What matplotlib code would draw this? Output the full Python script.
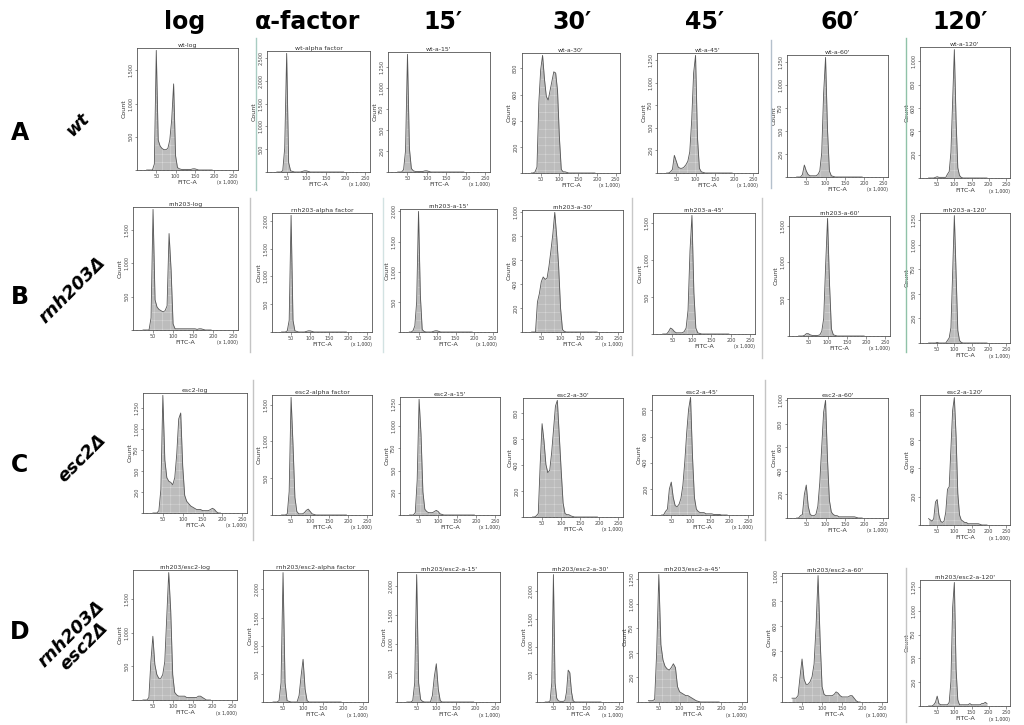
import matplotlib
matplotlib.use("Agg")
import matplotlib.pyplot as plt
from matplotlib.lines import Line2D
from matplotlib.ticker import MaxNLocator, MultipleLocator, FuncFormatter

# FITC-A bin centres (x 1,000)
fitc_bins = [25, 30, 35, 40, 45, 50, 55, 60, 65, 70, 75, 80, 85, 90, 95, 100, 105, 110,
             115, 120, 125, 130, 135, 140, 145, 150, 155, 160, 165, 170, 175, 180, 185, 190, 195]

# heights as % of the tallest bin of each histogram
wt_log = [0, 0, 0, 0, 5, 100, 25, 20, 18, 17, 17, 18, 25, 42, 72, 12, 2, 1, 0.5, 0.5,
          0.5, 0.5, 0.5, 0.5, 1, 1, 0.5, 0, 0, 0, 0, 0, 0, 0, 0]
wt_alpha = [0, 0, 0, 1, 20, 100, 8, 1, 0.5, 0, 0, 0, 0, 0.5, 1, 1, 0.5, 0, 0, 0,
            0, 0, 0, 0, 0, 0, 0, 0, 0, 0, 0, 0, 0, 0, 0]
wt_15 = [0, 0, 0, 2, 18, 100, 20, 3, 1, 0.5, 0.5, 0.5, 0.5, 0.5, 1, 1, 0.5, 0, 0, 0,
         0, 0, 0, 0, 0, 0, 0, 0, 0, 0, 0, 0, 0, 0, 0]
wt_30 = [0, 0, 1, 5, 60, 88, 100, 80, 65, 62, 70, 78, 86, 85, 70, 30, 3, 1, 1, 0.5,
         0, 0, 0, 0, 0, 0, 0, 0, 0, 0, 0, 0, 0, 0, 0]
wt_45 = [0, 0, 1, 3, 15, 10, 5, 4, 4, 5, 7, 10, 18, 45, 85, 100, 30, 4, 1, 0.5,
         0, 0, 0, 0, 0, 0, 0, 0, 0, 0, 0, 0, 0, 0, 0]
wt_60 = [0, 0, 0, 2, 10, 5, 2, 1, 1, 1, 1, 2, 5, 20, 70, 100, 40, 5, 1, 0.5,
         0, 0, 0, 0, 0, 0, 0, 0, 0, 0, 0, 0, 0, 0, 0]
wt_120 = [0, 0, 0, 0, 0.5, 1, 0.5, 0.5, 0.5, 0.5, 0.5, 3, 5, 20, 60, 100, 45, 8, 2, 0.5,
          0, 0, 0, 0, 0, 0, 0, 0, 0, 0, 0, 0, 0, 0, 0]

rnh_log = [0, 0, 0, 0, 10, 100, 25, 19, 17, 16, 15, 16, 20, 80, 50, 5, 1, 1, 1, 1,
           1, 1, 1, 1, 1, 1, 1, 0.5, 1, 1, 0.5, 0, 0, 0, 0]
rnh_alpha = [0, 0, 0, 1, 10, 100, 10, 1, 0.5, 0, 0, 0, 0, 0.5, 1, 1, 0.5, 0, 0, 0,
             0, 0, 0, 0, 0, 0, 0, 0, 0, 0, 0, 0, 0, 0, 0]
rnh_15 = [0, 0, 1, 5, 25, 100, 30, 2, 0.5, 0, 0, 0, 0, 0.5, 1, 1, 0.5, 0, 0, 0,
          0, 0, 0, 0, 0, 0, 0, 0, 0, 0, 0, 0, 0, 0, 0]
rnh_30 = [0, 0, 0, 25, 32, 42, 46, 44, 45, 55, 68, 82, 100, 80, 55, 20, 2, 0.5, 0, 0,
          0, 0, 0, 0, 0, 0, 0, 0, 0, 0, 0, 0, 0, 0, 0]
rnh_45 = [0, 0, 0, 2, 5, 4, 2, 1, 1, 1, 1, 2, 5, 20, 70, 100, 35, 5, 1, 0.5,
          0, 0, 0, 0, 0, 0, 0, 0, 0, 0, 0, 0, 0, 0, 0]
rnh_60 = [0, 0, 0, 0.5, 2, 2, 1, 0.5, 0.5, 0.5, 0.5, 1, 4, 15, 60, 100, 45, 6, 1, 0.5,
          0, 0, 0, 0, 0, 0, 0, 0, 0, 0, 0, 0, 0, 0, 0]
rnh_120 = [0, 0, 0, 0, 0, 0.5, 0, 0, 0, 0, 0, 2, 4, 12, 55, 100, 55, 10, 2, 0.5,
           0, 0, 0, 0, 0, 0, 0, 0, 0, 0, 0, 0, 0, 0, 0]

esc_log = [0, 0, 0, 2, 20, 100, 45, 30, 27, 26, 24, 30, 50, 80, 85, 40, 15, 10, 8, 6,
           5, 4, 3, 3, 3, 2, 2, 2, 2, 3, 4, 3, 1, 0, 0]
esc_alpha = [0, 0, 0, 1, 20, 100, 60, 15, 3, 1, 1, 1, 2, 4, 5, 3, 1, 0.5, 0, 0,
             0, 0, 0, 0, 0, 0, 0, 0, 0, 0, 0, 0, 0, 0, 0]
esc_15 = [0, 0, 0, 2, 30, 100, 70, 20, 5, 3, 2, 2, 2, 3, 4, 3, 1, 0.5, 0, 0,
          0, 0, 0, 0, 0, 0, 0, 0, 0, 0, 0, 0, 0, 0, 0]
esc_30 = [0, 0, 1, 3, 45, 80, 65, 45, 38, 40, 55, 75, 95, 100, 70, 40, 12, 3, 2, 2,
          1, 0.5, 0, 0, 0, 0, 0, 0, 0, 0, 0, 0, 0, 0, 0]
esc_45 = [0, 0, 3, 5, 22, 28, 15, 8, 7, 9, 14, 25, 45, 70, 90, 100, 50, 15, 5, 3,
          2, 2, 2, 1, 1, 1, 1, 0.5, 0.5, 0.5, 0.5, 0, 0, 0, 0]
esc_60 = [0, 0, 2, 3, 20, 28, 10, 3, 2, 2, 3, 10, 30, 60, 90, 100, 50, 15, 5, 3,
          2, 2, 1, 1, 1, 1, 1, 1, 1, 1, 1, 0.5, 0, 0, 0]
esc_120 = [5, 4, 3, 5, 18, 20, 8, 3, 2, 3, 10, 28, 30, 60, 90, 100, 70, 25, 8, 4,
           3, 2, 2, 1, 1, 1, 1, 1, 1, 1, 0.5, 0, 0, 0, 0]

dbl_log = [0, 0, 0, 2, 30, 50, 28, 20, 17, 17, 20, 30, 65, 100, 70, 20, 6, 4, 3, 3,
           3, 3, 2, 2, 2, 2, 2, 2, 3, 3, 2, 1, 0, 0, 0]
dbl_alpha = [0, 0, 0, 1, 15, 100, 15, 1, 0.5, 0, 0, 0, 0, 5, 20, 33, 10, 1, 0, 0,
             0, 0, 0, 0, 0, 0, 0, 0, 0, 0, 0, 0, 0, 0, 0]
dbl_15 = [0, 0, 0, 1, 15, 100, 15, 2, 0.5, 0, 0, 0, 0, 5, 20, 30, 10, 1, 0, 0,
          0, 0, 0, 0, 0, 0, 0, 0, 0, 0, 0, 0, 0, 0, 0]
dbl_30 = [0, 0, 0, 1, 15, 100, 15, 3, 1, 0.5, 0.5, 0.5, 1, 8, 25, 23, 8, 1, 0, 0,
          0, 0, 0, 0, 0, 0, 0, 0, 0, 0, 0, 0, 0, 0, 0]
dbl_45 = [1, 1, 1, 2, 40, 100, 45, 33, 28, 26, 25, 27, 30, 27, 12, 8, 7, 6, 5, 5,
          4, 3, 2, 1, 0.5, 0, 0, 0, 0, 0, 0, 0, 0, 0, 0]
dbl_60 = [3, 3, 3, 5, 20, 34, 18, 14, 14, 16, 20, 30, 60, 100, 50, 12, 6, 5, 5, 5,
          5, 6, 8, 7, 5, 4, 4, 4, 4, 5, 5, 3, 1, 0, 0]
dbl_120 = [0, 0, 0, 1, 3, 8, 2, 1, 1, 1, 1, 1, 3, 20, 80, 100, 30, 5, 1, 1,
           1, 1, 1, 1, 2, 1, 1, 1, 1, 1, 1, 2, 2, 3, 2]

# approximate count at the top of each panel
wt_peak = [1800, 2600, 1400, 900, 1300, 1300, 1100]
rnh_peak = [1800, 2100, 2000, 1000, 1600, 1600, 1300]
esc_peak = [1400, 1600, 1300, 900, 900, 1000, 900]
dbl_peak = [1900, 2300, 2200, 2300, 1300, 1000, 1300]

timepoints = ["log", "α-factor", "15′", "30′", "45′", "60′", "120′"]
file_suffix = ["log", "alpha factor", "a-15'", "a-30'", "a-45'", "a-60'", "a-120'"]
row_letters = ["A", "B", "C", "D"]
strains = ["wt", "rnh203Δ", "esc2Δ", "rnh203Δ\nesc2Δ"]
file_prefix = ["wt", "rnh203", "esc2", "rnh203/esc2"]

histograms = [
    [wt_log, wt_alpha, wt_15, wt_30, wt_45, wt_60, wt_120],
    [rnh_log, rnh_alpha, rnh_15, rnh_30, rnh_45, rnh_60, rnh_120],
    [esc_log, esc_alpha, esc_15, esc_30, esc_45, esc_60, esc_120],
    [dbl_log, dbl_alpha, dbl_15, dbl_30, dbl_45, dbl_60, dbl_120],
]
peaks = [wt_peak, rnh_peak, esc_peak, dbl_peak]

# panel boxes in pixels (left, top, right, bottom)
boxes = [
    [(137, 48, 238, 170), (267, 51, 370, 172), (388, 52, 490, 172), (522, 53, 620, 173),
     (657, 53, 758, 173), (787, 55, 888, 177), (920, 47, 1010, 178)],
    [(133, 207, 238, 330), (272, 213, 372, 332), (400, 209, 497, 332), (522, 210, 623, 332),
     (653, 213, 755, 334), (789, 216, 890, 336), (920, 213, 1010, 343)],
    [(143, 393, 247, 513), (272, 395, 372, 515), (400, 397, 500, 515), (523, 398, 623, 517),
     (652, 395, 753, 515), (787, 398, 888, 518), (920, 395, 1010, 525)],
    [(133, 570, 237, 700), (263, 570, 368, 702), (397, 572, 500, 702), (537, 572, 623, 702),
     (638, 572, 747, 702), (782, 573, 887, 702), (920, 580, 1010, 706)],
]

W, H = 1024, 725
plt.rcParams['hatch.linewidth'] = 0.3
fig = plt.figure(figsize=(W / 100, H / 100), dpi=100)


def fx(x):
    return x / W


def fy(y):
    return 1 - y / H


for r in range(4):
    for c in range(7):
        x0, y0, x1, y1 = boxes[r][c]
        ax = fig.add_axes([fx(x0), fy(y1), fx(x1 - x0), (y1 - y0) / H])
        top = peaks[r][c]
        counts = [v * top / 100 for v in histograms[r][c]]
        ax.fill_between(fitc_bins, counts, color='#bcbcbc', lw=0)
        ax.fill_between(fitc_bins, counts, facecolor='none', hatch='++',
                        edgecolor='#dedede', lw=0)
        ax.plot(fitc_bins, counts, color='#555555', lw=0.6)
        ax.set_xlim(0, 262)
        ax.set_ylim(0, top * 1.02)
        ax.xaxis.set_major_locator(MultipleLocator(50))
        ax.xaxis.set_minor_locator(MultipleLocator(10))
        ax.yaxis.set_major_locator(MaxNLocator(nbins=6, steps=[1, 2, 2.5, 5, 10]))
        ax.yaxis.set_major_formatter(FuncFormatter(lambda v, p: f"{int(v):,}" if v > 0 else ""))
        ax.tick_params(axis='both', which='major', length=1.8, width=0.4, pad=1,
                       labelsize=3.5, colors='#444444')
        ax.tick_params(axis='both', which='minor', length=1.0, width=0.3)
        ax.set_xticks([50, 100, 150, 200, 250])
        for lab in ax.get_yticklabels():
            lab.set_rotation(90)
            lab.set_va('center')
        for s in ax.spines.values():
            s.set_linewidth(0.6)
            s.set_color('#555555')
        ax.set_title(f"{file_prefix[r]}-{file_suffix[c]}", fontsize=4.5, pad=1,
                     color='#333333')
        ax.set_xlabel("FITC-A", fontsize=4.5, labelpad=1, color='#333333')
        ax.set_ylabel("Count", fontsize=4.5, labelpad=1, color='#333333')
        ax.text(1.0, -0.085, "(x 1,000)", transform=ax.transAxes, ha='right',
                va='top', fontsize=3.3, color='#333333')

# column headers
header_x = [185, 308, 443, 572, 705, 840, 960]
for name, hx in zip(timepoints, header_x):
    fig.text(fx(hx), fy(22), name, ha='center', va='center', fontsize=17,
             fontweight='bold')

# row letters and strain names
row_y = [133, 297, 465, 632]
name_pos = [(78, 125), (72, 290), (82, 458), (78, 640)]
for letter, ry, strain, (nx, ny) in zip(row_letters, row_y, strains, name_pos):
    fig.text(fx(20), fy(ry), letter, ha='center', va='center', fontsize=17,
             fontweight='bold')
    fig.text(fx(nx), fy(ny), strain, ha='center', va='center', fontsize=13,
             fontweight='bold', fontstyle='italic', rotation=45, linespacing=1.0)

# thin separator lines from the pasted panels
separators = [
    (256, 38, 190, '#a8ccc2'), (771, 40, 188, '#b4c0cc'), (906, 38, 352, '#8fc2a8'),
    (250, 198, 352, '#c4c4c4'), (383, 198, 352, '#d2e2e2'), (632, 198, 355, '#c8c8c8'),
    (762, 198, 358, '#c8c8c8'), (253, 380, 540, '#c4c4c4'), (765, 380, 540, '#c4c4c4'),
    (906, 568, 722, '#c4c4c4'),
]
for sx, sy0, sy1, col in separators:
    fig.add_artist(Line2D([fx(sx), fx(sx)], [fy(sy0), fy(sy1)], color=col, lw=1.0))

fig.savefig("out.png", dpi=100)
